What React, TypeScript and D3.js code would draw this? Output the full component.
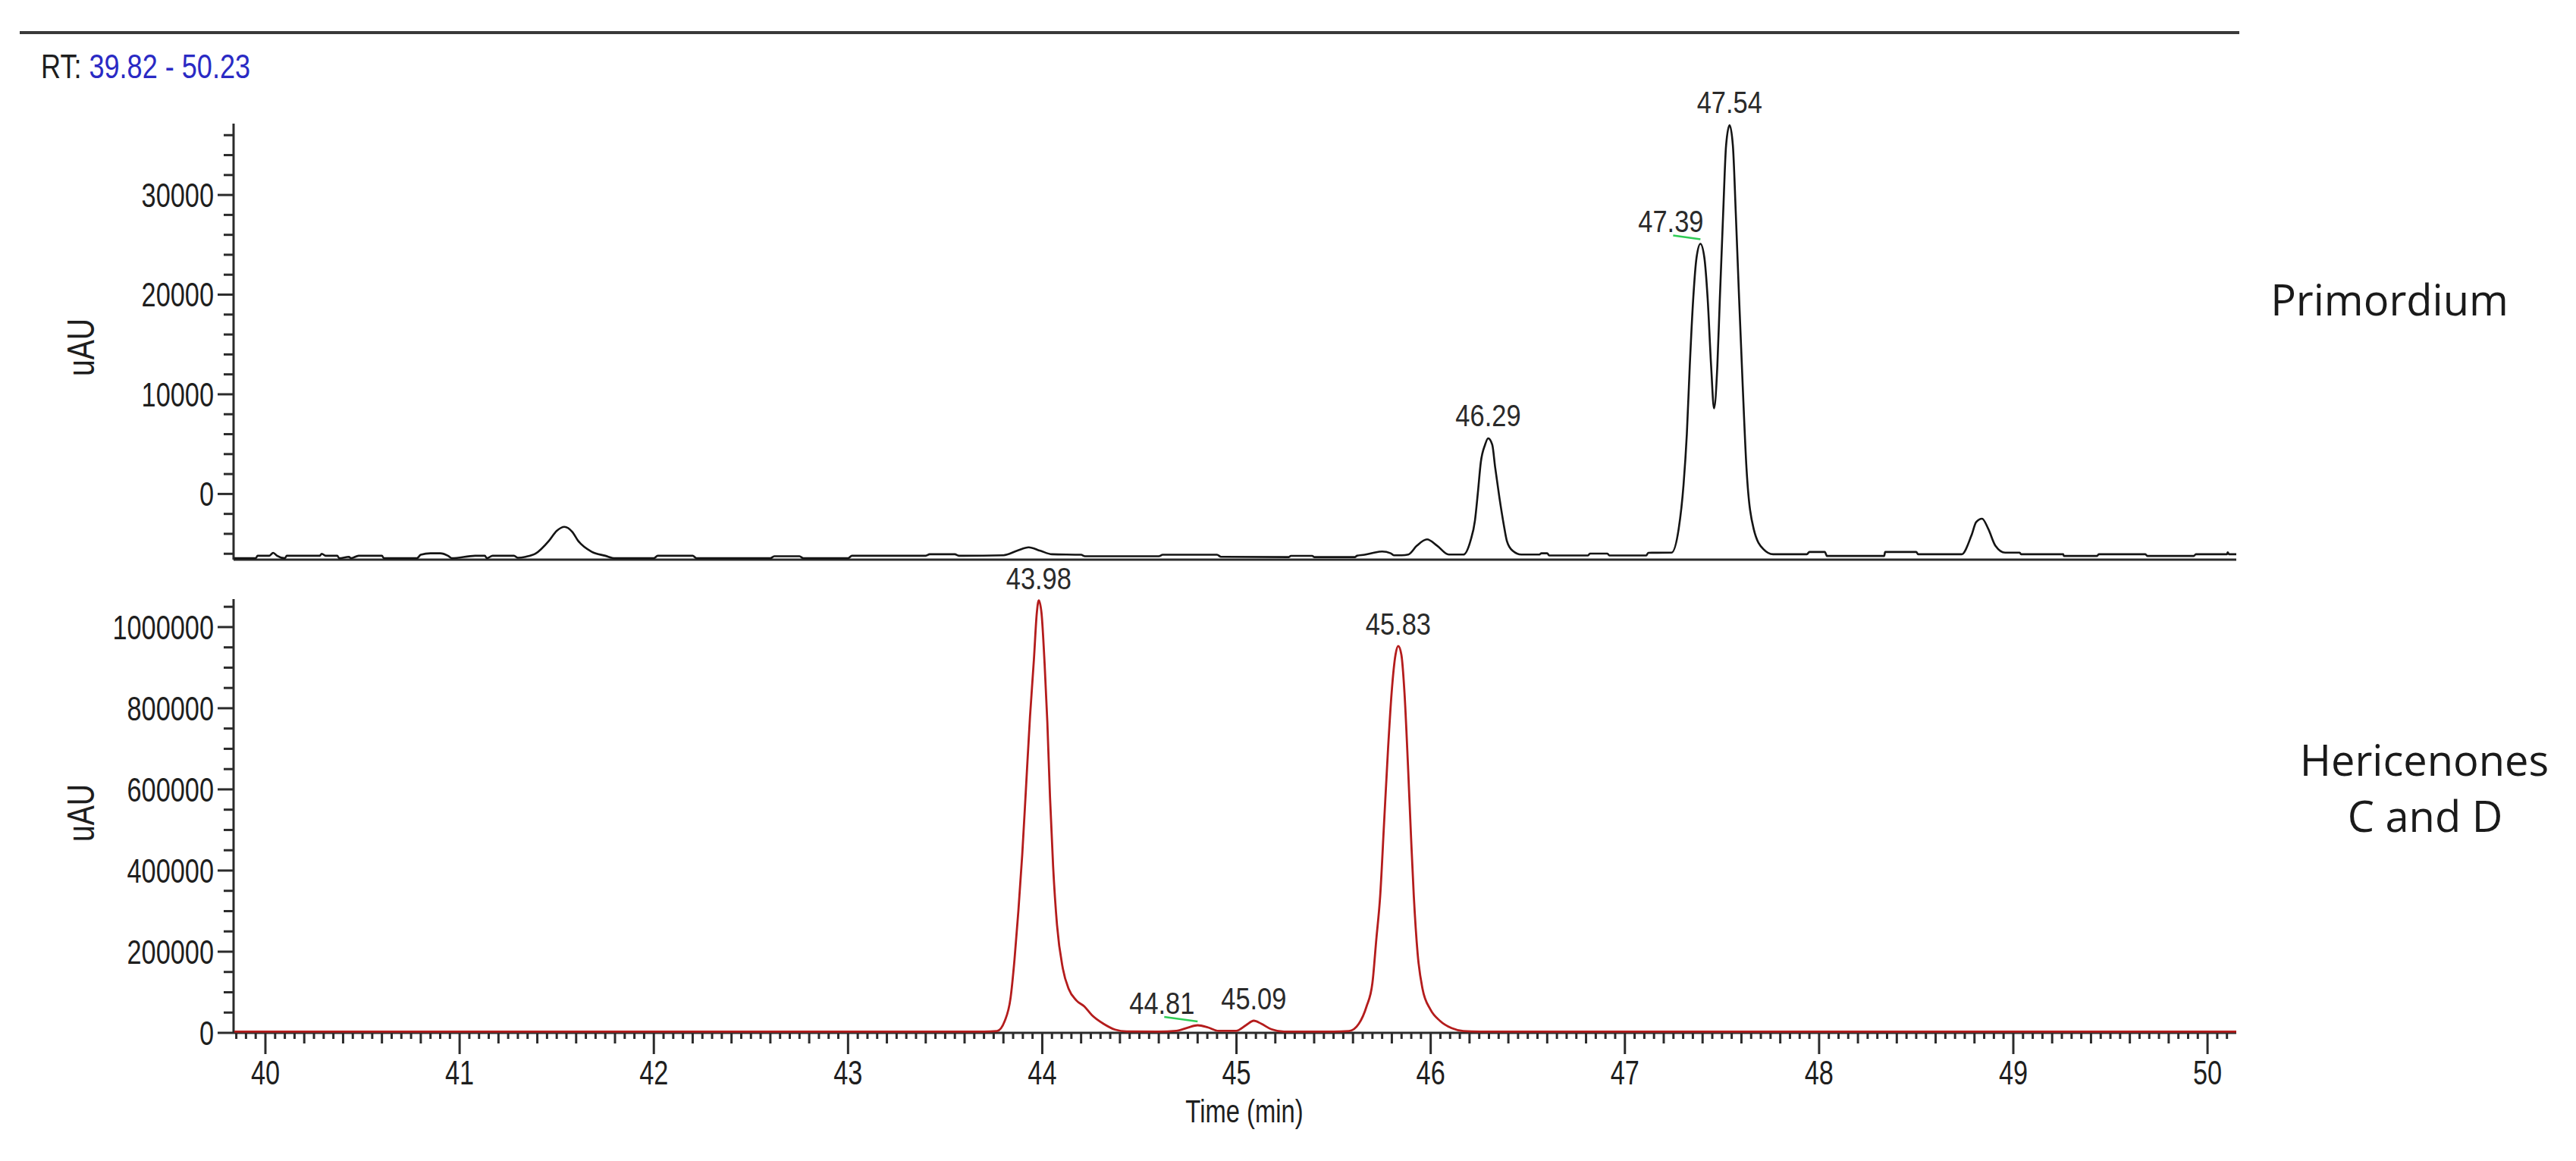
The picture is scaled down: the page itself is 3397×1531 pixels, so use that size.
import React, { useEffect } from 'react';
import * as d3 from 'd3';

const W = 3397;
const H = 1531;

// ---------- data ----------
const xTickLabels = [40, 41, 42, 43, 44, 45, 46, 47, 48, 49, 50];
const topYTickLabels = [0, 10000, 20000, 30000];
const bottomYTickLabels = [0, 200000, 400000, 600000, 800000, 1000000];

// Primordium trace (black)
const primTimes = [
  39.84, 39.95, 39.96, 40.02, 40.04, 40.06, 40.1, 40.11, 40.28, 40.29, 40.31, 40.37, 40.38, 40.43, 40.44, 40.48,
  40.6, 40.61, 40.78, 40.8, 40.85, 40.9, 40.94, 40.96, 41.08, 41.13, 41.14, 41.17, 41.28, 41.3, 41.34, 41.39,
  41.46, 41.5, 41.54, 41.58, 41.61, 41.68, 41.75, 41.8, 42.0, 42.02, 42.2, 42.22, 42.6, 42.62, 42.75, 42.77,
  43.0, 43.02, 43.4, 43.42, 43.55, 43.57, 43.8, 43.87, 43.93, 43.99, 44.05, 44.2, 44.22, 44.6, 44.62, 44.9,
  44.92, 45.27, 45.28, 45.39, 45.4, 45.61, 45.62, 45.66, 45.705, 45.75, 45.794, 45.81, 45.85, 45.885, 45.929,
  45.981, 46.033, 46.093, 46.168, 46.205, 46.228, 46.243, 46.258, 46.28, 46.296, 46.317, 46.332, 46.354, 46.377,
  46.392, 46.422, 46.467, 46.56, 46.57, 46.6, 46.61, 46.81, 46.82, 46.91, 46.92, 47.11, 47.12, 47.24, 47.277,
  47.302, 47.319, 47.334, 47.352, 47.369, 47.389, 47.409, 47.426, 47.444, 47.459, 47.476, 47.489, 47.506, 47.521,
  47.539, 47.556, 47.571, 47.588, 47.606, 47.626, 47.663, 47.713, 47.763, 47.937, 47.95, 48.03, 48.04, 48.236,
  48.335, 48.34, 48.5, 48.51, 48.709, 48.734, 48.784, 48.809, 48.839, 48.871, 48.908, 48.958, 49.033, 49.04,
  49.257, 49.26, 49.431, 49.44, 49.68, 49.69, 49.929, 49.94, 50.1, 50.104, 50.11, 50.148,
];
const primValues = [
  -6450, -6450, -6200, -6200, -5900, -6200, -6450, -6200, -6200, -6000, -6200, -6200, -6450, -6300, -6450, -6200,
  -6200, -6450, -6450, -6100, -5950, -5950, -6200, -6450, -6200, -6200, -6450, -6200, -6200, -6400, -6300, -6000,
  -4700, -3700, -3300, -3800, -4700, -5800, -6200, -6450, -6450, -6200, -6200, -6450, -6450, -6250, -6250, -6450,
  -6450, -6200, -6200, -6050, -6050, -6200, -6150, -5700, -5350, -5700, -6050, -6100, -6250, -6250, -6100, -6100,
  -6300, -6330, -6210, -6210, -6330, -6330, -6200, -6100, -5900, -5770, -5950, -6150, -6150, -6080, -5190,
  -4560, -5190, -6080, -6080, -4690, -2660, 130, 3170, 4940, 5580, 4940, 2660, -380, -3160,
  -4690, -5700, -6080, -6080, -5950, -5950, -6170, -6170, -5980, -5980, -6170, -6170, -5900, -5890, -3500,
  930, 6030, 12840, 19650, 23730, 25100, 23730, 19650, 12840, 8590, 12840, 19650, 28160, 34970,
  37010, 34970, 28160, 19650, 11140, 2620, -3500, -5540, -6050, -6050, -5820, -5820, -6220, -6220,
  -6220, -5820, -5820, -6050, -6050, -6050, -4180, -2820, -2480, -3500, -5200, -5890, -5890, -6050,
  -6050, -6220, -6220, -6050, -6050, -6220, -6220, -6050, -6050, -5850, -6050, -6050,
];

// Hericenones C and D trace (red)
const heriTimes = [
  39.84, 43.7, 43.767, 43.807, 43.837, 43.857, 43.877, 43.897, 43.917, 43.937, 43.957, 43.972, 43.982, 43.996,
  44.012, 44.026, 44.04, 44.056, 44.076, 44.106, 44.136, 44.176, 44.216, 44.255, 44.315, 44.375, 44.435, 44.6,
  44.69, 44.75, 44.8, 44.855, 44.907, 44.998, 45.05, 45.089, 45.128, 45.18, 45.245, 45.5, 45.58, 45.63, 45.67,
  45.7, 45.72, 45.74, 45.76, 45.78, 45.799, 45.819, 45.833, 45.849, 45.865, 45.883, 45.899, 45.913, 45.933,
  45.958, 45.998, 46.048, 46.108, 46.168, 46.25, 50.148,
];
const heriValues = [
  3000, 3000, 4500, 29500, 86700, 180000, 300000, 440000, 610000, 780000, 920000, 1035000, 1066000, 1035000,
  910400, 767100, 580000, 409200, 265800, 158500, 108400, 79600, 65400, 43900, 22400, 8000, 3500, 3000,
  5000, 13000, 18700, 13100, 5000, 5000, 19300, 29900, 22400, 8800, 3000, 3000, 4500, 22400, 65400,
  122800, 230200, 337700, 516700, 695700, 838900, 932000, 953500, 932000, 838900, 659900, 480900, 337700, 194200,
  108400, 58200, 29500, 11600, 4500, 3000, 3000,
];

// peak annotations
const primPeakLabels = ['46.29', '47.39', '47.54'];
const primPeakTimes = [46.296, 47.389, 47.539];
const primPeakValues = [5580, 25100, 37010];
const primPeakShift = [0, -39, 0];

const heriPeakLabels = ['43.98', '44.81', '45.09', '45.83'];
const heriPeakTimes = [43.982, 44.8, 45.089, 45.833];
const heriPeakValues = [1066000, 18700, 29900, 953500];
const heriPeakShift = [0, -47, 0, 0];

// ---------- layout ----------
const X0 = 308;
const X1 = 2949;
const NUM_FONT = '"Liberation Sans", Arial, sans-serif';
const LABEL_FONT = '"Open Sans", "Noto Sans", sans-serif';
const AXIS = '#2b2b2b';

const x = d3.scaleLinear().domain([39.836, 50.148]).range([X0, X1]);
const yTop = d3.scaleLinear().domain([-6590, 37160]).range([738, 163]);
const yBot = d3.scaleLinear().domain([0, 1069000]).range([1362, 790]);

type CTextProps = {
  x: number;
  y: number;
  size: number;
  sx?: number;
  anchor?: 'start' | 'middle' | 'end';
  fill?: string;
  rotate?: number;
  family?: string;
  dy?: string;
  children: React.ReactNode;
};

const CText = ({ x, y, size, sx = 0.8, anchor = 'middle', fill = '#1e1e1e', rotate = 0, family = NUM_FONT, dy, children }: CTextProps) => (
  <text
    transform={`translate(${x},${y})${rotate ? ` rotate(${rotate})` : ''} scale(${sx},1)`}
    fontSize={size}
    textAnchor={anchor}
    fill={fill}
    fontFamily={family}
    dy={dy}
  >
    {children}
  </text>
);

function YAxis({ scale, step, majorStep, lo, hi, labels }: { scale: d3.ScaleLinear<number, number>; step: number; majorStep: number; lo: number; hi: number; labels: number[] }) {
  const ticks: number[] = [];
  for (let k = Math.ceil(lo / step); k * step <= hi; k++) ticks.push(k * step);
  const [r0, r1] = scale.range();
  return (
    <g>
      <line x1={X0} x2={X0} y1={r0} y2={r1} stroke={AXIS} strokeWidth={3} />
      {ticks.map((v) => {
        const major = Math.round(v / majorStep) * majorStep === v;
        return <line key={v} x1={X0 - (major ? 21 : 13)} x2={X0} y1={scale(v)} y2={scale(v)} stroke={AXIS} strokeWidth={3} />;
      })}
      {labels.map((v) => (
        <CText key={v} x={282} y={scale(v)} size={44} sx={0.78} anchor="end" dy="0.36em">
          {String(v)}
        </CText>
      ))}
    </g>
  );
}

export default function App() {
  useEffect(() => {
    document.body.style.margin = '0';
    document.body.style.overflow = 'hidden';
  }, []);

  const lineTop = d3
    .line<number>()
    .x((_, i) => x(primTimes[i]))
    .y((v) => yTop(v))
    .curve(d3.curveMonotoneX);
  const lineBot = d3
    .line<number>()
    .x((_, i) => x(heriTimes[i]))
    .y((v) => yBot(v))
    .curve(d3.curveMonotoneX);

  const xTicks: number[] = [];
  for (let i = Math.ceil(39.836 * 20); i / 20 <= 50.148; i++) xTicks.push(i);

  return (
    <svg width={W} height={H} style={{ position: 'absolute', left: 0, top: 0, display: 'block', background: '#fff' }}>
      <rect x={0} y={0} width={W} height={H} fill="#fff" />
      {/* header rule */}
      <line x1={26} x2={2953} y1={43} y2={43} stroke="#3a3a3a" strokeWidth={4} />
      <text transform="translate(54,103) scale(0.82,1)" fontSize={44} fontFamily={NUM_FONT}>
        <tspan fill="#1e1e1e">{'RT: '}</tspan>
        <tspan fill="#2a2ac4">{'39.82 - 50.23'}</tspan>
      </text>

      {/* top panel */}
      <YAxis scale={yTop} step={2000} majorStep={10000} lo={-6590} hi={37160} labels={topYTickLabels} />
      <line x1={X0} x2={X1} y1={738} y2={738} stroke={AXIS} strokeWidth={3} />
      <path d={lineTop(primValues) ?? ''} fill="none" stroke="#141414" strokeWidth={2.6} strokeLinejoin="round" />
      <CText x={106} y={458} size={50} sx={0.78} rotate={-90} dy="0.36em">uAU</CText>
      {primPeakLabels.map((lab, i) => (
        <CText key={lab} x={x(primPeakTimes[i]) + primPeakShift[i]} y={yTop(primPeakValues[i]) - 16} size={41} sx={0.84} fill="#2a2a2a">
          {lab}
        </CText>
      ))}
      {primPeakShift.map((s, i) =>
        s !== 0 ? (
          <line key={i} x1={x(primPeakTimes[i]) - 36} y1={yTop(primPeakValues[i]) - 11} x2={x(primPeakTimes[i])} y2={yTop(primPeakValues[i]) - 6} stroke="#2ecc55" strokeWidth={2.5} />
        ) : null
      )}

      {/* bottom panel */}
      <YAxis scale={yBot} step={50000} majorStep={200000} lo={0} hi={1069000} labels={bottomYTickLabels} />
      <line x1={X0} x2={X1} y1={1362} y2={1362} stroke={AXIS} strokeWidth={3} />
      {xTicks.map((i) => {
        const len = i % 20 === 0 ? 28 : i % 4 === 0 ? 14 : 8;
        return <line key={i} x1={x(i / 20)} x2={x(i / 20)} y1={1362} y2={1362 + len} stroke={AXIS} strokeWidth={3} />;
      })}
      {xTickLabels.map((t) => (
        <CText key={t} x={x(t)} y={1430} size={44} sx={0.78}>
          {String(t)}
        </CText>
      ))}
      <path d={lineBot(heriValues) ?? ''} fill="none" stroke="#b41c1c" strokeWidth={2.8} strokeLinejoin="round" />
      <CText x={106} y={1072} size={50} sx={0.78} rotate={-90} dy="0.36em">uAU</CText>
      {heriPeakLabels.map((lab, i) => (
        <CText key={lab} x={x(heriPeakTimes[i]) + heriPeakShift[i]} y={yBot(heriPeakValues[i]) - 15} size={41} sx={0.84} fill="#2a2a2a">
          {lab}
        </CText>
      ))}
      {heriPeakShift.map((s, i) =>
        s !== 0 ? (
          <line key={i} x1={x(heriPeakTimes[i]) - 44} y1={yBot(heriPeakValues[i]) - 11} x2={x(heriPeakTimes[i])} y2={yBot(heriPeakValues[i]) - 5} stroke="#2ecc55" strokeWidth={2.5} />
        ) : null
      )}
      <CText x={1641} y={1480} size={42} sx={0.78}>Time (min)</CText>

      {/* sample labels */}
      <text x={3151} y={416} fontSize={56} textAnchor="middle" fontFamily={LABEL_FONT} fill="#1a1a1a">Primordium</text>
      <text x={3197} y={1023} fontSize={56} textAnchor="middle" fontFamily={LABEL_FONT} fill="#1a1a1a">Hericenones</text>
      <text x={3198} y={1097} fontSize={56} textAnchor="middle" fontFamily={LABEL_FONT} fill="#1a1a1a">C and D</text>
    </svg>
  );
}
